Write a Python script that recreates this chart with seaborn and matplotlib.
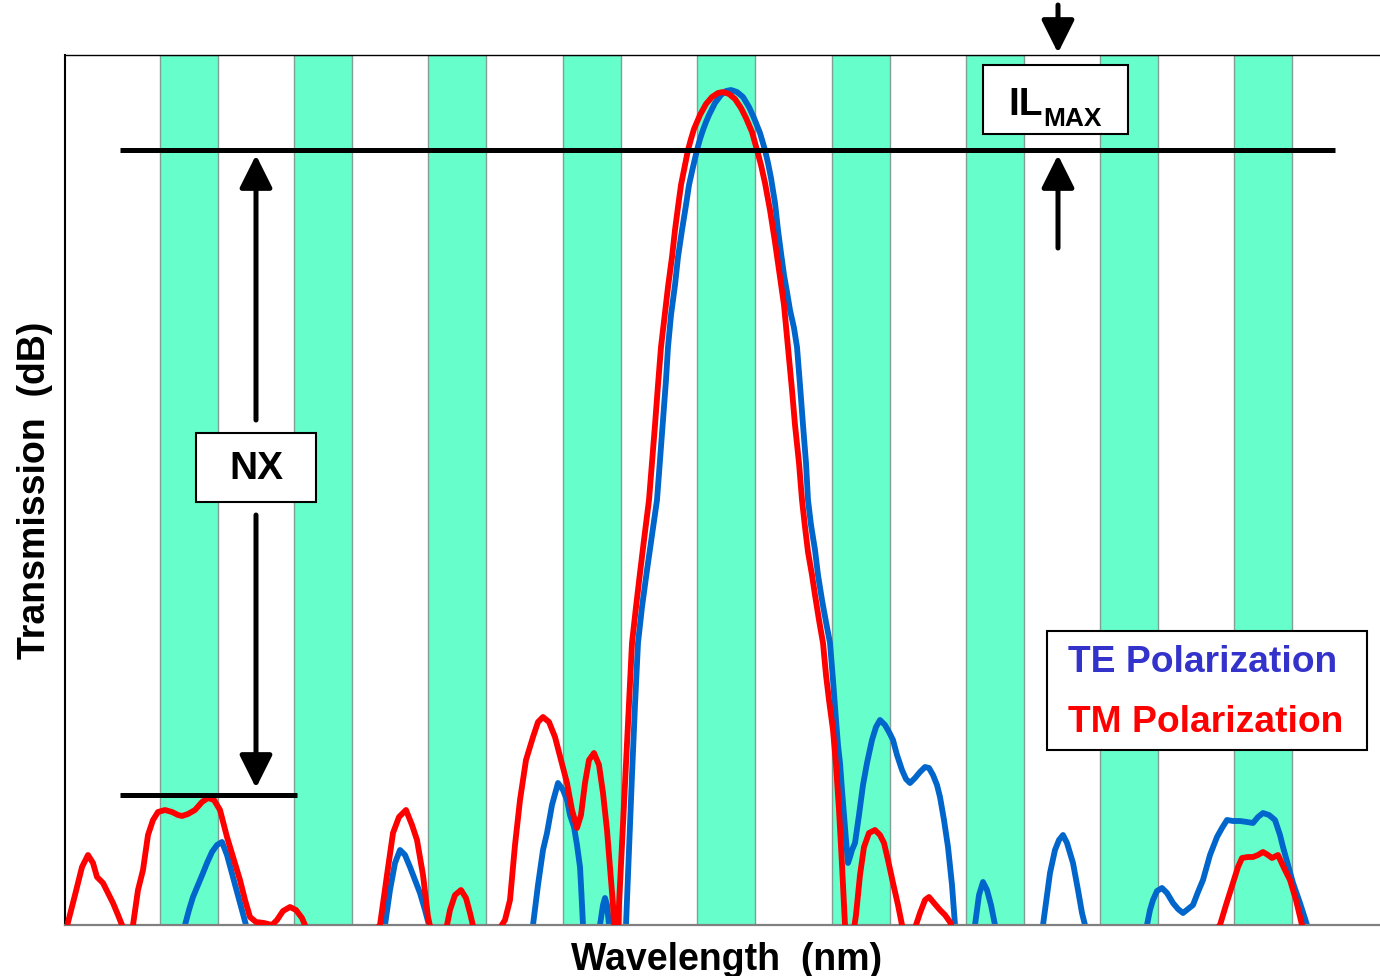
import numpy as np
import pandas as pd
import seaborn as sns
import matplotlib.pyplot as plt
from matplotlib.patches import Rectangle

sns.set_style("white")
plt.rcParams["font.family"] = ["Liberation Sans", "DejaVu Sans"]
plt.rcParams["font.weight"] = "bold"
plt.rcParams["text.color"] = "black"
plt.rcParams["axes.labelcolor"] = "black"

# wavelength axis in arbitrary units, transmission in arbitrary units (0 = floor)
band_left = [160, 294, 428, 563, 697, 832, 966, 1100, 1234]
band_width = 58

te_wl = [65, 180, 185, 189, 193, 198, 203, 207, 212, 217, 222, 227, 233, 238, 242, 246, 250, 300,
         380, 385, 390, 395, 400, 405, 410, 415, 420, 425, 429, 432, 480,
         530, 533, 538, 543, 547, 552, 558, 563, 567, 570, 574, 577, 580, 581, 583, 586,
         598, 600, 603, 605, 607, 609, 612, 622,
         626, 628, 630, 632, 635, 638, 642, 647, 652, 657, 660, 663, 666, 668, 671, 675, 678,
         682, 686, 689, 693, 697, 700, 703, 706, 709, 715, 721, 726,
         731, 737, 743, 749, 754, 760, 765, 768, 771, 775, 778, 781, 784, 787, 790, 794, 797,
         800, 803, 806, 808, 811, 815, 818, 822, 826, 830, 833, 836, 838, 840, 842, 844, 846,
         848, 850, 852, 855, 859, 863, 867, 872, 876, 880, 885, 889, 893, 897, 902,
         906, 910, 915, 920, 925, 929, 933, 937, 940, 944, 948, 952, 955, 958,
         970, 975, 979, 983, 987, 991, 995, 999, 1035,
         1043, 1047, 1050, 1055, 1059, 1063, 1067, 1073, 1078, 1082, 1085, 1090, 1140,
         1147, 1150, 1153, 1157, 1162, 1167, 1173, 1178, 1183, 1188, 1193, 1198, 1203, 1210,
         1217, 1222, 1227, 1233, 1240, 1247, 1253, 1258, 1263, 1269, 1275, 1280, 1283, 1288,
         1293, 1300, 1307, 1312, 1380]
te_db = [-60, -10, 0, 15, 28, 40, 52, 62, 73, 80, 83, 70, 48, 30, 15, 0, -20, -60,
         -10, 0, 35, 62, 75, 70, 58, 45, 32, 15, 0, -20, -60,
         -10, 0, 40, 75, 92, 120, 142, 135, 125, 110, 98, 80, 58, 40, 0, -20,
         -10, 0, 20, 27, 20, 0, -20, -20,
         0, 50, 100, 150, 220, 282, 318, 355, 390, 425, 465, 505, 545, 578, 610, 640, 668,
         695, 720, 740, 758, 775, 786, 795, 803, 810, 822, 830, 834,
         835, 833, 828, 818, 807, 792, 775, 762, 747, 722, 695, 672, 650, 633, 615, 597, 578,
         540, 500, 462, 425, 400, 375, 350, 325, 303, 282, 245, 205, 180, 162, 135, 110, 85,
         62, 68, 75, 82, 110, 140, 162, 185, 198, 205, 200, 193, 185, 170, 155,
         146, 142, 147, 153, 158, 157, 150, 140, 128, 105, 78, 40, 0, -20,
         -20, 0, 30, 43, 35, 20, 0, -20, -20,
         0, 30, 52, 75, 85, 90, 82, 62, 35, 12, 0, -30, -30,
         0, 15, 25, 34, 37, 32, 22, 16, 12, 16, 20, 33, 45, 70,
         88, 97, 105, 104, 104, 103, 102, 108, 112, 110, 105, 90, 78, 60,
         42, 22, 0, -20, -60]

tm_wl = [66, 75, 82, 88, 93, 97, 103, 108, 113, 118, 124, 128, 133, 138, 143, 148, 153, 158,
         165, 172, 178, 182, 188, 195, 202, 208, 214, 220, 227, 234, 240, 245, 250, 256, 264,
         272, 277, 283, 290, 296, 302, 307, 340,
         375, 380, 387, 393, 399, 406, 412, 417, 423, 428, 432, 440,
         446, 450, 455, 461, 466, 470, 474, 488,
         500, 505, 510, 515, 520, 526, 533, 538, 543, 549, 555, 561, 567, 572, 577, 581, 585,
         589, 594, 599, 603, 607, 610, 613, 614, 616,
         618, 620, 623, 626, 629, 632, 636, 640, 644, 649, 652, 655, 658, 661, 665, 668, 672,
         675, 678, 681, 685, 688, 691, 694, 697, 700, 706, 712, 718,
         723, 729, 735, 741, 746, 752, 757, 761, 765, 770, 775, 779, 784, 788, 792, 795, 799,
         802, 805, 808, 812, 815, 819, 823, 826, 829, 833, 836, 839, 842, 845,
         849, 853, 856, 860, 864, 869, 875, 880, 884, 888, 893, 898, 902,
         906, 912, 916, 920, 925, 929, 934, 940, 945, 950, 953, 1000, 1100,
         1215, 1220, 1226, 1233, 1238, 1242, 1248, 1253, 1258, 1263, 1268, 1272, 1278, 1284,
         1290, 1296, 1302, 1306, 1340, 1380]
tm_db = [-5, 30, 58, 70, 62, 48, 42, 32, 22, 10, -5, -20, 0, 35, 55, 90, 105, 113,
         115, 113, 110, 109, 111, 115, 123, 127, 125, 115, 88, 65, 45, 25, 8, 3, 2,
         0, 5, 14, 18, 15, 7, -5, -60,
         -5, 0, 50, 92, 108, 115, 100, 85, 50, 8, -10, -20,
         -5, 15, 30, 35, 27, 12, -5, -20,
         -3, 5, 25, 80, 125, 165, 188, 203, 208, 203, 188, 165, 142, 115, 97, 110, 142,
         165, 172, 160, 132, 95, 58, 20, 0, -20,
         0, 40, 100, 160, 222, 282, 318, 352, 385, 425, 462, 500, 540, 578, 612, 638, 668,
         695, 718, 740, 760, 775, 786, 796, 803, 810, 821, 828, 832,
         833, 831, 826, 817, 807, 793, 775, 760, 742, 715, 683, 655, 620, 578, 535, 500, 462,
         425, 398, 373, 350, 330, 305, 282, 250, 225, 195, 160, 115, 60, 0,
         -30, -10, 10, 50, 78, 92, 95, 90, 82, 65, 42, 20, 0,
         -15, -10, 0, 12, 25, 28, 22, 15, 10, 3, -5, -60, -60,
         -5, 0, 20, 42, 58, 67, 68, 68, 70, 73, 70, 67, 70, 57,
         45, 25, 0, -10, -60, -60]

te = pd.DataFrame({"wavelength": te_wl, "transmission": te_db})
tm = pd.DataFrame({"wavelength": tm_wl, "transmission": tm_db})

fig = plt.figure(figsize=(13.8, 9.76), dpi=100)
ax = fig.add_axes([65 / 1380, 51 / 976, 1315 / 1380, 870 / 976])

for left in band_left:
    ax.axvspan(left, left + band_width, facecolor="#66FFCC", edgecolor="#7f9f95", lw=1, zorder=0)

sns.lineplot(data=te, x="wavelength", y="transmission", sort=False, estimator=None,
             color="#0066CC", lw=4.2, ax=ax, zorder=2)
sns.lineplot(data=tm, x="wavelength", y="transmission", sort=False, estimator=None,
             color="#FF0000", lw=4.2, ax=ax, zorder=3)
for line in ax.get_lines():
    line.set_solid_joinstyle("round")

ax.set_xlim(65, 1380)
ax.set_ylim(0, 870)
ax.set_xticks([])
ax.set_yticks([])

ax.spines["right"].set_visible(False)
ax.spines["left"].set_color("black")
ax.spines["left"].set_linewidth(1.5)
ax.spines["top"].set_color("black")
ax.spines["top"].set_linewidth(1.0)
ax.spines["bottom"].set_color("#808080")
ax.spines["bottom"].set_linewidth(1.6)

# IL max and noise floor reference lines
ax.plot([120, 1335], [775, 775], color="black", lw=3.6, zorder=4, solid_capstyle="butt")
ax.plot([120, 297], [130, 130], color="black", lw=3.6, zorder=4, solid_capstyle="butt")

arrow = dict(arrowstyle="-|>,head_length=0.5,head_width=0.25", mutation_scale=40,
             lw=3.6, color="black", shrinkA=0, shrinkB=0)
ax.annotate("", xy=(256, 770), xytext=(256, 505), arrowprops=arrow, zorder=5)
ax.annotate("", xy=(256, 137), xytext=(256, 410), arrowprops=arrow, zorder=5)
ax.annotate("", xy=(1058, 872), xytext=(1058, 920), arrowprops=arrow, zorder=5,
            annotation_clip=False)
ax.annotate("", xy=(1058, 770), xytext=(1058, 677), arrowprops=arrow, zorder=5)

# NX box
ax.add_patch(Rectangle((196, 423), 120, 69, facecolor="white", edgecolor="black", lw=1.5, zorder=6))
ax.text(256, 456, "NX", ha="center", va="center", fontsize=28, fontweight="bold", zorder=7)

# IL max box
ax.add_patch(Rectangle((983, 791), 145, 69, facecolor="white", edgecolor="black", lw=1.5, zorder=6))
ax.text(1008, 810, "IL", ha="left", va="baseline", fontsize=28, fontweight="bold", zorder=7)
ax.text(1043, 799, "MAX", ha="left", va="baseline", fontsize=19, fontweight="bold", zorder=7)

# legend box
ax.add_patch(Rectangle((1047, 175), 320, 119, facecolor="white", edgecolor="black", lw=1.5, zorder=6))
ax.text(1068, 253, "TE Polarization", ha="left", va="baseline", fontsize=26.8,
        fontweight="bold", color="#3333CC", zorder=7)
ax.text(1068, 193, "TM Polarization", ha="left", va="baseline", fontsize=26.8,
        fontweight="bold", color="#FF0000", zorder=7)

ax.set_xlabel("Wavelength  (nm)", fontsize=27, fontweight="bold")
ax.set_ylabel("Transmission  (dB)", fontsize=27, fontweight="bold")
ax.xaxis.set_label_coords(0.503, -0.02)
ax.yaxis.set_label_coords(-0.009, 0.5)

fig.savefig("out.png", dpi=100)
